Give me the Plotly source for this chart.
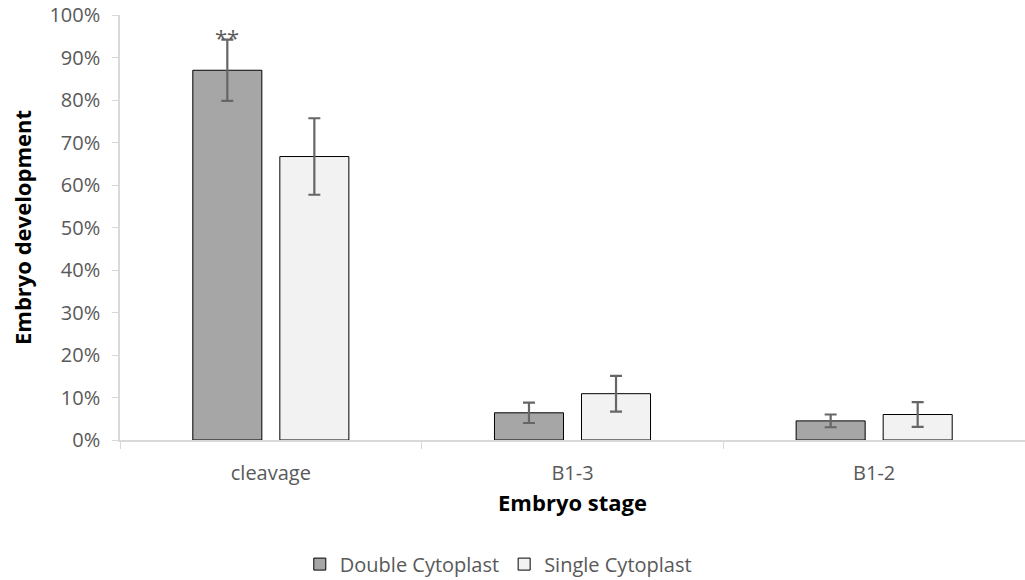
import plotly.graph_objects as go

# Embryo development by stage, double vs single cytoplast
stages = ["cleavage", "B1-3", "B1-2"]
double_vals = [0.870, 0.064, 0.045]
double_err = [0.072, 0.024, 0.015]
single_vals = [0.667, 0.109, 0.060]
single_err = [0.090, 0.042, 0.029]
signif_label = "**"

BAR_GAP = 0.423
GROUP_GAP = 0.207
TEXT = "#595959"
AXIS = "#d9d9d9"
FONT = "Open Sans, Lato, sans-serif"

fig = go.Figure()
fig.add_trace(go.Bar(
    name="Double Cytoplast", x=stages, y=double_vals,
    marker=dict(color="#a6a6a6", line=dict(color="#000000", width=1)),
    error_y=dict(type="data", array=double_err, color="#666666", thickness=2.2, width=6),
))
fig.add_trace(go.Bar(
    name="Single Cytoplast", x=stages, y=single_vals,
    marker=dict(color="#f2f2f2", line=dict(color="#000000", width=1)),
    error_y=dict(type="data", array=single_err, color="#666666", thickness=2.2, width=6),
))

# significance marker above the first double-cytoplast bar
fig.add_annotation(
    x=0 - (1 - BAR_GAP) / 4, y=double_vals[0] + double_err[0],
    xref="x", yref="y", text=signif_label, showarrow=False,
    yanchor="bottom", yshift=-14,
    font=dict(family=FONT, size=22, color=TEXT),
)

fig.update_layout(
    width=1025, height=580, autosize=False,
    margin=dict(l=120, r=0, t=15, b=140, autoexpand=False),
    paper_bgcolor="white", plot_bgcolor="white",
    barmode="group", bargap=BAR_GAP, bargroupgap=GROUP_GAP,
    font=dict(family=FONT, size=20, color=TEXT),
    showlegend=True,
    legend=dict(
        orientation="h", x=0.418, xanchor="center", xref="paper",
        y=-0.292, yanchor="middle",
        font=dict(family=FONT, size=20, color=TEXT),
        traceorder="normal", tracegroupgap=0,
    ),
    xaxis=dict(
        showline=True, linecolor=AXIS, linewidth=1.5,
        ticks="outside", tickson="boundaries", ticklen=7, tickcolor=AXIS,
        ticklabelstandoff=14,
        showgrid=False,
        title=dict(text="<b>Embryo stage</b>", standoff=11,
                   font=dict(family=FONT, size=22, color="#000000")),
    ),
    yaxis=dict(
        range=[0, 1], dtick=0.1, tickformat=".0%",
        showline=True, linecolor=AXIS, linewidth=1.5,
        ticks="outside", ticklen=6, tickcolor=AXIS,
        ticklabelstandoff=8,
        showgrid=False, zeroline=False,
        title=dict(text="<b>Embryo development</b>", standoff=12,
                   font=dict(family=FONT, size=22, color="#000000")),
    ),
)

fig.write_html("out.html")
